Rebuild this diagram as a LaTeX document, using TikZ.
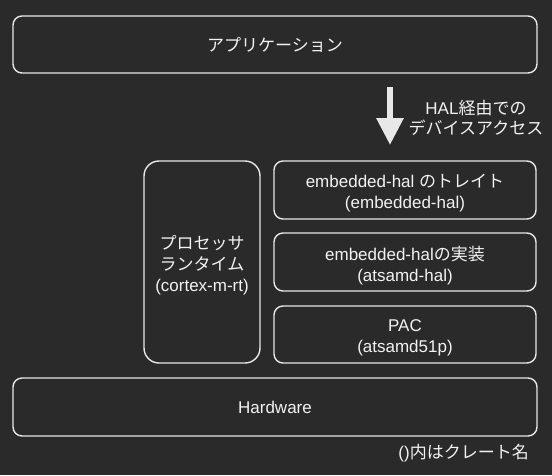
\documentclass[tikz,border=0pt]{standalone}
\usepackage{fontspec}
\setmainfont{Liberation Sans}
\newfontfamily\jp{Noto Sans CJK JP}
\usetikzlibrary{arrows.meta}
\definecolor{bg}{HTML}{2A2A2A}
\definecolor{fg}{HTML}{E8E8E8}
\definecolor{tx}{HTML}{F2F2F2}
\begin{document}
\begin{tikzpicture}[x=1pt,y=-1pt,
  box/.style={draw=fg, line width=1.4pt, rounded corners=9pt, text=tx, align=center,
    inner sep=0pt, font=\fontsize{17}{21}\selectfont},
  boxtext/.style={text=tx, align=center, inner sep=0pt, font=\fontsize{17}{21}\selectfont},
  lbl/.style={text=tx, align=center, inner sep=0pt, font=\fontsize{17}{20}\selectfont}]
\fill[bg] (0,0) rectangle (552,475);
\useasboundingbox (0,0) rectangle (552,475);
\node[box, minimum width=524pt, minimum height=57pt] (app) at (275,44.5) {\jp アプリケーション};
\node[box, minimum width=116pt, minimum height=202pt, rounded corners=15pt] (rt) at (202,262) {};
\node[boxtext] (rtT) at ([yshift=-3pt]rt.center)
  {{\jp プロセッサ}\\{\jp ランタイム}\\(cortex-m-rt)};
\node[box, minimum width=262pt, minimum height=58pt] (trait) at (405,190) {};
\node[boxtext] (traitT) at ([yshift=-3.5pt]trait.center)
  {embedded-hal {\jp のトレイト}\\(embedded-hal)};
\node[box, minimum width=262pt, minimum height=58pt] (impl) at (405,262) {};
\node[boxtext] (implT) at ([yshift=-3.5pt]impl.center)
  {embedded-hal{\jp の実装}\\(atsamd-hal)};
\node[box, minimum width=262pt, minimum height=57pt] (pac) at (405,334.5) {};
\node[boxtext] (pacT) at ([yshift=-3.5pt]pac.center)
  {PAC\\(atsamd51p)};
\node[box, minimum width=524pt, minimum height=58pt] (hw) at (275,407) {Hardware};
\coordinate (atop) at (390,87);
\coordinate (atip) at (390,145);
\draw[fg, line width=6pt, -{Triangle[width=26pt,length=27pt]}] (atop) -- (atip);
\node[lbl] (acc) at (476,118) {HAL{\jp 経由での}\\{\jp デバイスアクセス}};
\node[lbl, anchor=east] (note) at (529,453) {(){\jp 内はクレート名}};
\end{tikzpicture}
\end{document}
